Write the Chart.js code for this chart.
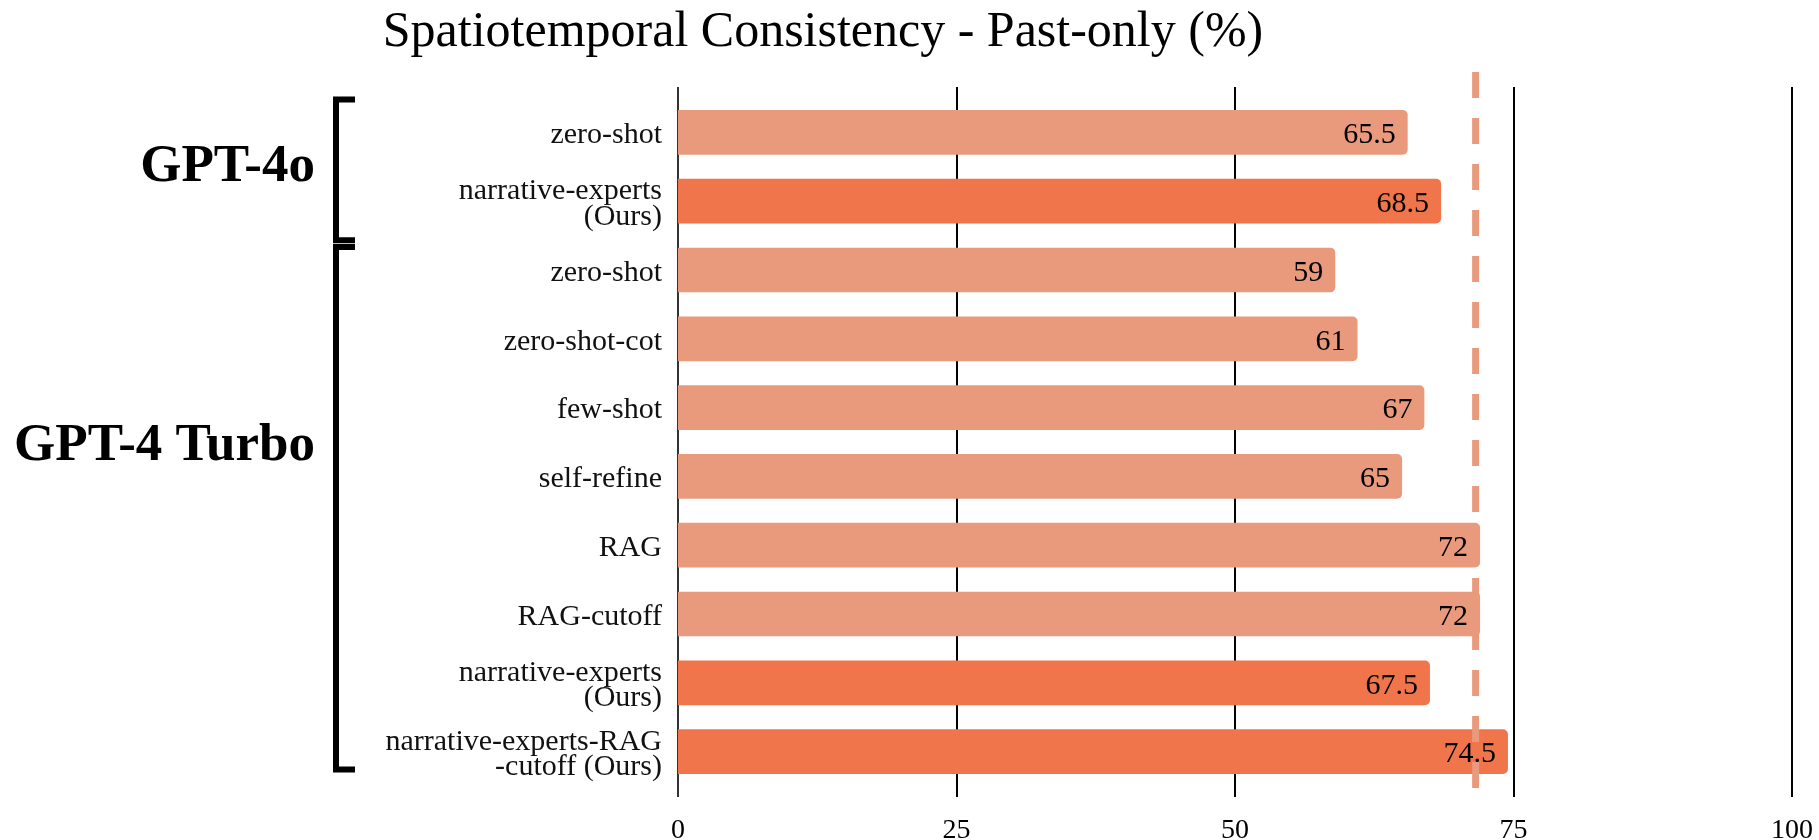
<!DOCTYPE html>
<html>
<head>
<meta charset="utf-8">
<script src="https://cdn.jsdelivr.net/npm/chart.js@4.4.1/dist/chart.umd.min.js"></script>
<style>
  html, body { margin: 0; padding: 0; background: #ffffff; }
  #wrap { width: 1819px; height: 840px; }
</style>
</head>
<body>
<div id="wrap"><canvas id="c" width="1819" height="840"></canvas></div>
<script>
// ---- data ----
const chartTitle = 'Spatiotemporal Consistency - Past-only (%)';
const categories = [
  'zero-shot',
  ['narrative-experts', '(Ours)'],
  'zero-shot',
  'zero-shot-cot',
  'few-shot',
  'self-refine',
  'RAG',
  'RAG-cutoff',
  ['narrative-experts', '(Ours)'],
  ['narrative-experts-RAG', '-cutoff (Ours)']
];
const scores = [65.5, 68.5, 59, 61, 67, 65, 72, 72, 67.5, 74.5];
const isOurs = [false, true, false, false, false, false, false, false, true, true];
const xTickValues = [0, 25, 50, 75, 100];
const referenceValue = 71.6;
const groupNames = ['GPT-4o', 'GPT-4 Turbo'];
const groupFirst = [0, 2];
const groupLast = [1, 9];

// ---- styles ----
const LIGHT = '#E99A7C';
const DARK = '#F0754B';
const SERIF = '"Liberation Serif", "Times New Roman", Times, serif';

const decor = {
  id: 'decor',
  beforeDatasetsDraw(chart) {
    const { ctx, chartArea, scales } = chart;
    const xs = scales.x;
    ctx.save();
    xTickValues.forEach(v => {
      const x = Math.round(xs.getPixelForValue(v));
      ctx.beginPath();
      ctx.strokeStyle = v === 0 ? '#333333' : '#000000';
      ctx.lineWidth = 2;
      ctx.moveTo(x, chartArea.top - 11);
      ctx.lineTo(x, chartArea.bottom + 11);
      ctx.stroke();
    });
    ctx.restore();
  },
  afterDatasetsDraw(chart) {
    const { ctx, chartArea, scales } = chart;
    const xs = scales.x, ys = scales.y;
    ctx.save();
    // reference dashed line
    const rx = xs.getPixelForValue(referenceValue);
    ctx.beginPath();
    ctx.strokeStyle = LIGHT;
    ctx.lineWidth = 7;
    ctx.setLineDash([26, 20]);
    ctx.moveTo(rx, chartArea.top - 26);
    ctx.lineTo(rx, chartArea.bottom + 12);
    ctx.stroke();
    ctx.setLineDash([]);

    // value labels
    const meta = chart.getDatasetMeta(0);
    ctx.font = '30px ' + SERIF;
    ctx.fillStyle = '#000000';
    ctx.textAlign = 'right';
    ctx.textBaseline = 'middle';
    meta.data.forEach((el, i) => {
      ctx.fillText(String(scores[i]), el.x - 12, el.y + 3);
    });

    // title
    ctx.font = '50px ' + SERIF;
    ctx.textAlign = 'center';
    ctx.textBaseline = 'alphabetic';
    ctx.fillText(chartTitle, 823, 46);

    // group brackets and names
    const bx = 336, armEnd = 355;
    const topAdj = [-33, -23];
    const botAdj = [39, 18];
    const labelAt = [0.45, 4.5];
    ctx.strokeStyle = '#000000';
    ctx.lineWidth = 6;
    ctx.lineJoin = 'miter';
    groupNames.forEach((name, g) => {
      const t = ys.getPixelForValue(groupFirst[g]) + topAdj[g];
      const b = ys.getPixelForValue(groupLast[g]) + botAdj[g];
      ctx.beginPath();
      ctx.moveTo(armEnd, t);
      ctx.lineTo(bx, t);
      ctx.lineTo(bx, b);
      ctx.lineTo(armEnd, b);
      ctx.stroke();
      ctx.font = 'bold 53px ' + SERIF;
      ctx.textAlign = 'right';
      ctx.textBaseline = 'alphabetic';
      ctx.fillText(name, 315, ys.getPixelForValue(labelAt[g]) + 18);
    });
    ctx.restore();
  }
};

new Chart(document.getElementById('c'), {
  type: 'bar',
  data: {
    labels: categories,
    datasets: [{
      data: scores,
      backgroundColor: isOurs.map(o => o ? DARK : LIGHT),
      borderWidth: 0,
      borderRadius: 5,
      borderSkipped: 'start',
      barPercentage: 0.65,
      categoryPercentage: 1.0
    }]
  },
  options: {
    indexAxis: 'y',
    responsive: false,
    animation: false,
    devicePixelRatio: 1,
    layout: { padding: { top: 98, right: 27, left: 0, bottom: 0 } },
    plugins: {
      legend: { display: false },
      tooltip: { enabled: false },
      title: { display: false }
    },
    scales: {
      x: {
        type: 'linear',
        position: 'bottom',
        min: 0,
        max: 100,
        afterBuildTicks(scale) { scale.ticks = xTickValues.map(v => ({ value: v })); },
        ticks: {
          font: { family: SERIF, size: 28 },
          color: '#000000',
          padding: 28
        },
        grid: { display: false, drawTicks: false },
        border: { display: false },
        afterFit(scale) {
          scale.height = 54;
          scale.paddingLeft = 0;
          scale.paddingRight = 0;
        }
      },
      y: {
        type: 'category',
        offset: true,
        ticks: {
          font: { family: SERIF, size: 30, lineHeight: 0.85 },
          color: '#111111',
          padding: 16,
          labelOffset: 3
        },
        grid: { display: false, drawTicks: false },
        border: { display: false },
        afterFit(scale) { scale.width = 678; }
      }
    }
  },
  plugins: [decor]
});
</script>
</body>
</html>
